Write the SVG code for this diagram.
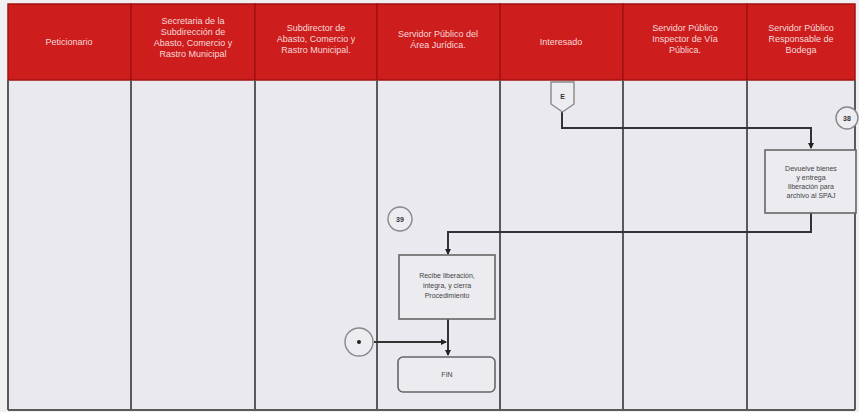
<svg xmlns="http://www.w3.org/2000/svg" width="859" height="412" viewBox="0 0 859 412">
<defs>
<style>
.hd{fill:#cd1d1d;stroke:#a31212;stroke-width:1.5}
.ht{fill:#f6d9d9;font-family:"Liberation Sans",Arial,sans-serif;font-size:9px;text-anchor:middle}
.lane{stroke:#5a5a5a;stroke-width:2;fill:none}
.box{fill:#ebebf0;stroke:#666;stroke-width:1.6}
.bt{fill:#444;font-family:"Liberation Sans",Arial,sans-serif;font-size:7px;text-anchor:middle}
.ct{fill:#333;font-family:"Liberation Sans",Arial,sans-serif;font-size:7px;font-weight:bold;text-anchor:middle}
.circ{fill:#ececf1;stroke:#888;stroke-width:1.4}
.con{stroke:#333;stroke-width:2;fill:none}
</style>
<marker id="arr" markerWidth="6" markerHeight="6" refX="5" refY="3" orient="auto" markerUnits="userSpaceOnUse">
<path d="M0,0 L6,3 L0,6 Z" fill="#222"/>
</marker>
</defs>
<rect x="0" y="0" width="859" height="412" fill="#f0f0f3"/>
<rect x="8" y="80" width="847" height="330" fill="#e9e9ef"/>
<g id="header">
<rect class="hd" x="8" y="4" width="123" height="76"/>
<rect class="hd" x="131" y="4" width="124" height="76"/>
<rect class="hd" x="255" y="4" width="122" height="76"/>
<rect class="hd" x="377" y="4" width="123" height="76"/>
<rect class="hd" x="500" y="4" width="123" height="76"/>
<rect class="hd" x="623" y="4" width="124" height="76"/>
<rect class="hd" x="747" y="4" width="108" height="76"/>
<text class="ht" x="69" y="45">Peticionario</text>
<text class="ht" x="193" y="24">Secretaria de la</text>
<text class="ht" x="193" y="35">Subdirección de</text>
<text class="ht" x="193" y="46">Abasto, Comercio y</text>
<text class="ht" x="193" y="57">Rastro Municipal</text>
<text class="ht" x="316" y="31">Subdirector de</text>
<text class="ht" x="316" y="42">Abasto, Comercio y</text>
<text class="ht" x="316" y="53">Rastro Municipal.</text>
<text class="ht" x="438" y="37">Servidor Público del</text>
<text class="ht" x="438" y="48">Área Jurídica.</text>
<text class="ht" x="561" y="45">Interesado</text>
<text class="ht" x="685" y="31">Servidor Público</text>
<text class="ht" x="685" y="42">Inspector de Vía</text>
<text class="ht" x="685" y="53">Pública.</text>
<text class="ht" x="801" y="31">Servidor Público</text>
<text class="ht" x="801" y="42">Responsable de</text>
<text class="ht" x="801" y="53">Bodega</text>
</g>
<g id="lanes">
<line class="lane" x1="8" y1="80" x2="8" y2="410"/>
<line class="lane" x1="131" y1="80" x2="131" y2="410"/>
<line class="lane" x1="255" y1="80" x2="255" y2="410"/>
<line class="lane" x1="377" y1="80" x2="377" y2="410"/>
<line class="lane" x1="500" y1="80" x2="500" y2="410"/>
<line class="lane" x1="623" y1="80" x2="623" y2="410"/>
<line class="lane" x1="747" y1="80" x2="747" y2="410"/>
<line class="lane" x1="855" y1="80" x2="855" y2="410"/>
<line class="lane" x1="8" y1="410" x2="855" y2="410"/>
</g>
<g id="connectors">
<polyline class="con" points="562,112 562,128 811,128 811,148" marker-end="url(#arr)"/>
<polyline class="con" points="811,213 811,232 448,232 448,254" marker-end="url(#arr)"/>
<polyline class="con" points="448,319 448,355" marker-end="url(#arr)"/>
<line class="con" x1="374" y1="342" x2="446" y2="342" marker-end="url(#arr)"/>
</g>
<g id="E">
<path class="circ" d="M551,82 L574,82 L574,104 L562.5,112 L551,104 Z"/>
<text class="ct" x="562.5" y="99">E</text>
</g>
<g id="c38">
<circle class="circ" cx="847" cy="118" r="11"/>
<text class="ct" x="847" y="121">38</text>
</g>
<g id="devuelve">
<rect class="box" x="765" y="150" width="91" height="63"/>
<text class="bt" x="811" y="171">Devuelve bienes</text>
<text class="bt" x="811" y="180">y entrega</text>
<text class="bt" x="811" y="189">liberación para</text>
<text class="bt" x="811" y="198">archivo al SPAJ</text>
</g>
<g id="c39">
<circle class="circ" cx="400" cy="219" r="12"/>
<text class="ct" x="400" y="222">39</text>
</g>
<g id="recibe">
<rect class="box" x="399" y="255" width="96" height="64"/>
<text class="bt" x="447" y="278">Recibe liberación,</text>
<text class="bt" x="447" y="288">integra, y cierra</text>
<text class="bt" x="447" y="298">Procedimiento</text>
</g>
<g id="dot">
<circle class="circ" cx="359" cy="342" r="14"/>
<circle cx="359" cy="342" r="2" fill="#222"/>
</g>
<g id="fin">
<rect class="box" x="398" y="357" width="97" height="35" rx="5"/>
<text class="bt" x="447" y="377">FIN</text>
</g>
</svg>
